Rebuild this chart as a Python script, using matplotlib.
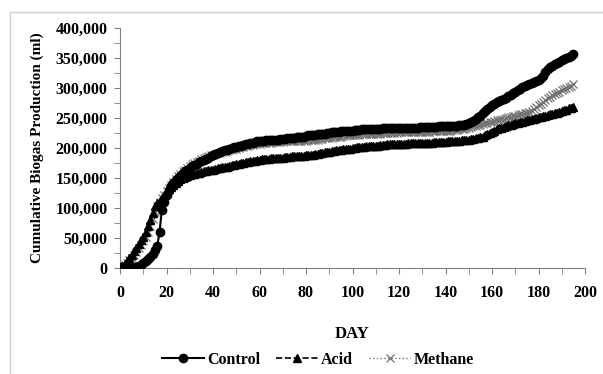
import matplotlib
matplotlib.use("Agg")
from matplotlib import pyplot as plt
from matplotlib.patches import Rectangle
from matplotlib.ticker import MultipleLocator, FuncFormatter
import numpy as np

days = list(range(0, 196))

# cumulative biogas, thousands of ml, one value per day
control_k = [
    0, 1, 2, 2, 1, 0, 1, 2, 3, 5,
    8, 11, 15, 19, 24, 30, 36, 60, 97, 110,
    122, 130, 136, 141, 146, 150, 154, 158, 161, 164,
    167, 170, 172, 174, 176, 178, 180, 182, 184, 186,
    188, 190, 192, 193, 195, 196, 197, 199, 200, 201,
    202, 203, 204, 205, 206, 207, 208, 209, 210, 211,
    212, 212, 212, 213, 213, 213, 214, 214, 214, 215,
    215, 215, 216, 216, 217, 217, 218, 218, 219, 219,
    220, 221, 221, 222, 222, 223, 223, 224, 224, 225,
    225, 226, 226, 227, 227, 228, 228, 228, 229, 229,
    229, 230, 230, 230, 231, 231, 231, 231, 232, 232,
    232, 232, 232, 233, 233, 233, 233, 233, 233, 233,
    233, 233, 234, 234, 234, 234, 234, 234, 234, 235,
    235, 235, 235, 235, 235, 235, 235, 236, 236, 236,
    236, 236, 237, 237, 237, 237, 238, 238, 239, 240,
    241, 243, 245, 248, 251, 254, 258, 262, 265, 268,
    271, 274, 276, 278, 280, 282, 284, 286, 289, 291,
    294, 297, 299, 301, 303, 305, 306, 308, 310, 312,
    314, 317, 320, 326, 332, 335, 337, 340, 342, 344,
    346, 348, 350, 352, 354, 356,
]

acid_k = [
    0, 3, 7, 12, 17, 22, 28, 34, 40, 46,
    52, 60, 70, 80, 92, 103, 108, 112, 117, 122,
    127, 131, 135, 139, 142, 145, 148, 150, 152, 154,
    155, 156, 157, 158, 159, 160, 161, 162, 163, 163,
    164, 165, 166, 167, 168, 168, 169, 170, 171, 172,
    173, 174, 175, 175, 176, 177, 178, 178, 179, 180,
    180, 181, 181, 182, 182, 183, 183, 183, 184, 184,
    184, 185, 185, 185, 186, 186, 186, 187, 187, 187,
    188, 188, 189, 189, 190, 190, 191, 192, 193, 194,
    194, 195, 195, 196, 197, 197, 198, 198, 199, 199,
    200, 200, 201, 201, 202, 202, 203, 203, 203, 204,
    204, 204, 205, 205, 205, 206, 206, 206, 206, 207,
    207, 207, 207, 207, 208, 208, 208, 208, 208, 209,
    209, 209, 209, 209, 209, 210, 210, 210, 210, 210,
    210, 211, 211, 211, 212, 212, 212, 213, 213, 214,
    214, 215, 215, 216, 217, 218, 219, 221, 223, 225,
    227, 229, 231, 233, 234, 235, 237, 238, 239, 240,
    241, 242, 243, 244, 245, 246, 247, 248, 249, 250,
    251, 252, 253, 254, 255, 256, 257, 258, 259, 260,
    262, 263, 264, 266, 267, 268,
]

methane_k = [
    0, 2, 5, 9, 13, 17, 22, 27, 33, 39,
    45, 52, 60, 70, 82, 94, 104, 110, 116, 122,
    128, 134, 139, 144, 149, 153, 157, 161, 164, 167,
    170, 173, 175, 177, 179, 181, 183, 185, 186, 188,
    189, 190, 191, 192, 193, 194, 195, 196, 197, 198,
    199, 200, 201, 202, 203, 204, 205, 205, 206, 207,
    207, 208, 208, 209, 209, 209, 210, 210, 210, 210,
    210, 211, 211, 211, 211, 211, 212, 212, 212, 212,
    212, 213, 213, 213, 214, 214, 215, 215, 216, 216,
    217, 217, 218, 218, 219, 219, 220, 220, 221, 221,
    221, 222, 222, 222, 223, 223, 223, 223, 224, 224,
    224, 224, 224, 225, 225, 225, 225, 225, 225, 225,
    226, 226, 226, 226, 226, 226, 226, 227, 227, 227,
    227, 227, 227, 227, 228, 228, 228, 228, 228, 229,
    229, 229, 229, 230, 230, 230, 231, 231, 232, 233,
    234, 235, 236, 237, 238, 239, 240, 241, 242, 243,
    244, 245, 246, 247, 248, 249, 250, 251, 252, 253,
    254, 255, 256, 257, 258, 259, 260, 262, 265, 268,
    271, 274, 277, 280, 283, 285, 288, 290, 292, 294,
    296, 298, 300, 302, 304, 306,
]

control = np.array(control_k) * 1000
acid = np.array(acid_k) * 1000
methane = np.array(methane_k) * 1000

plt.rcParams["font.family"] = "Liberation Serif"
plt.rcParams["font.weight"] = "bold"

fig = plt.figure(figsize=(6.03, 3.74), dpi=100)
fig.patches.append(Rectangle((10 / 603, -0.1), 1.2, 1 - 12 / 374 + 0.1,
                             transform=fig.transFigure, fill=False,
                             edgecolor="#d0d0d0", linewidth=1))

ax = fig.add_axes([120 / 603, 1 - 268 / 374, 465 / 603, 240 / 374])

ax.plot(days, methane, color="#707070", linestyle=":", linewidth=1,
        marker="x", markersize=6, markeredgewidth=0.9, label="Methane", zorder=2)
ax.plot(days, acid, color="black", linestyle="--", linewidth=1.2,
        marker="^", markersize=5.5, label="Acid", zorder=3)
ax.plot(days, control, color="black", linestyle="-", linewidth=1.5,
        marker="o", markersize=6, label="Control", zorder=4)

ax.set_xlim(0, 200)
ax.set_ylim(0, 400000)
ax.xaxis.set_major_locator(MultipleLocator(20))
ax.xaxis.set_minor_locator(MultipleLocator(10))
ax.yaxis.set_major_locator(MultipleLocator(50000))
ax.yaxis.set_minor_locator(MultipleLocator(25000))
ax.yaxis.set_major_formatter(FuncFormatter(lambda v, p: f"{int(v):,}"))

for s in ["top", "right"]:
    ax.spines[s].set_visible(False)
for s in ["left", "bottom"]:
    ax.spines[s].set_color("#808080")
ax.tick_params(which="both", direction="out", color="#808080", labelsize=11.5)
ax.tick_params(which="major", length=4)
ax.tick_params(which="minor", length=4)
ax.tick_params(axis="x", pad=8)
ax.tick_params(axis="y", pad=5)

ax.set_ylabel("Cumulative Biogas Production (ml)", fontsize=11, fontweight="bold", labelpad=8)
ax.set_xlabel("DAY", fontsize=12, fontweight="bold", labelpad=18)

handles, labels = ax.get_legend_handles_labels()
order = [2, 1, 0]
fig.legend([handles[i] for i in order], [labels[i] for i in order],
           loc="center", bbox_to_anchor=(318 / 603, 1 - 360 / 374), ncol=3,
           frameon=False, fontsize=11.5, handlelength=2.6, columnspacing=1.0,
           handletextpad=0.2)

fig.savefig("out.png", dpi=100)
